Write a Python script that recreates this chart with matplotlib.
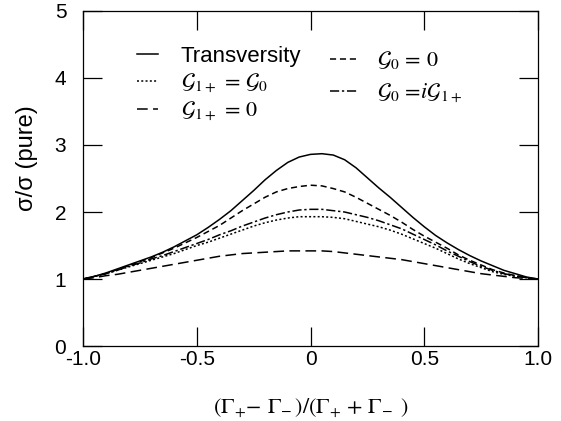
import matplotlib
matplotlib.use("Agg")
import matplotlib.pyplot as plt

plt.rcParams['font.family'] = ['Liberation Sans', 'DejaVu Sans']
plt.rcParams['mathtext.fontset'] = 'stix'

# asymmetry (Gamma+ - Gamma-)/(Gamma+ + Gamma-), step 0.05
x_vals = [-1.00, -0.95, -0.90, -0.85, -0.80, -0.75, -0.70, -0.65, -0.60, -0.55,
          -0.50, -0.45, -0.40, -0.35, -0.30, -0.25, -0.20, -0.15, -0.10, -0.05,
          0.00, 0.05, 0.10, 0.15, 0.20, 0.25, 0.30, 0.35, 0.40, 0.45,
          0.50, 0.55, 0.60, 0.65, 0.70, 0.75, 0.80, 0.85, 0.90, 0.95, 1.00]

# sigma / sigma(pure)
transversity = [1.00, 1.04, 1.09, 1.15, 1.21, 1.27, 1.33, 1.40, 1.48, 1.57,
                1.66, 1.77, 1.89, 2.02, 2.17, 2.32, 2.48, 2.62, 2.74, 2.82,
                2.86, 2.87, 2.85, 2.78, 2.66, 2.51, 2.36, 2.22, 2.07, 1.92,
                1.78, 1.65, 1.54, 1.44, 1.35, 1.27, 1.20, 1.13, 1.08, 1.03, 1.00]
g0_zero = [1.00, 1.04, 1.08, 1.14, 1.20, 1.26, 1.32, 1.39, 1.46, 1.54,
           1.62, 1.71, 1.80, 1.91, 2.02, 2.12, 2.22, 2.30, 2.35, 2.38,
           2.40, 2.39, 2.35, 2.30, 2.22, 2.13, 2.04, 1.95, 1.85, 1.74,
           1.64, 1.55, 1.46, 1.36, 1.28, 1.21, 1.14, 1.09, 1.05, 1.02, 1.00]
g0_ig1 = [1.00, 1.04, 1.08, 1.13, 1.19, 1.24, 1.30, 1.35, 1.41, 1.47,
          1.53, 1.59, 1.66, 1.72, 1.79, 1.85, 1.91, 1.96, 2.00, 2.03,
          2.04, 2.04, 2.02, 2.00, 1.96, 1.92, 1.87, 1.81, 1.75, 1.67,
          1.59, 1.51, 1.42, 1.34, 1.26, 1.19, 1.13, 1.08, 1.05, 1.02, 1.00]
g1_eq_g0 = [1.00, 1.04, 1.08, 1.13, 1.18, 1.23, 1.28, 1.33, 1.38, 1.44,
            1.50, 1.55, 1.61, 1.67, 1.73, 1.79, 1.84, 1.88, 1.91, 1.93,
            1.93, 1.93, 1.92, 1.90, 1.86, 1.82, 1.78, 1.73, 1.67, 1.60,
            1.53, 1.46, 1.38, 1.30, 1.23, 1.17, 1.11, 1.07, 1.04, 1.02, 1.00]
g1_zero = [1.00, 1.02, 1.05, 1.07, 1.10, 1.13, 1.16, 1.19, 1.22, 1.25,
           1.28, 1.31, 1.34, 1.36, 1.38, 1.39, 1.40, 1.41, 1.42, 1.42,
           1.42, 1.42, 1.41, 1.39, 1.37, 1.35, 1.33, 1.31, 1.29, 1.26,
           1.23, 1.20, 1.17, 1.14, 1.11, 1.08, 1.06, 1.04, 1.02, 1.01, 1.00]

x_ticks = [-1.0, -0.5, 0.0, 0.5, 1.0]
x_tick_labels = ['-1.0', '-0.5', '0', '0.5', '1.0']
y_ticks = [0, 1, 2, 3, 4, 5]

fig = plt.figure(figsize=(5.61, 4.21), dpi=100)
ax = fig.add_axes([0.148, 0.178, 0.811, 0.796])

lw = 1.1
l_t, = ax.plot(x_vals, transversity, color='black', lw=lw, label='Transversity')
l_d, = ax.plot(x_vals, g0_zero, color='black', lw=lw, dashes=(4, 2.5),
               label=r'$\mathcal{G}_0\, =\, \mathit{0}$')
l_dd, = ax.plot(x_vals, g0_ig1, color='black', lw=lw, dashes=(6, 1.8, 1.5, 1.8),
                label=r'$\mathcal{G}_0\, =\! i\mathcal{G}_{1+}$')
l_dt, = ax.plot(x_vals, g1_eq_g0, color='black', lw=lw, dashes=(1.3, 1.5),
                label=r'$\mathcal{G}_{1+}\, =\, \mathcal{G}_0$')
l_l, = ax.plot(x_vals, g1_zero, color='black', lw=lw, dashes=(7, 3.5),
               label=r'$\mathcal{G}_{1+}\, =\, \mathit{0}$')

ax.set_xlim(-1.0, 1.0)
ax.set_ylim(0, 5)
ax.set_xticks(x_ticks)
ax.set_xticklabels(x_tick_labels)
ax.set_yticks(y_ticks)
ax.tick_params(direction='in', length=14, width=0.9, top=True, right=True,
               labelsize=15)
ax.tick_params(axis='x', pad=3)
ax.tick_params(axis='y', pad=12)
for s in ax.spines.values():
    s.set_linewidth(0.9)

ax.set_ylabel('σ/σ (pure)', fontsize=17)
ax.yaxis.set_label_coords(-0.10, 0.56)
ax.set_xlabel(r'$(\Gamma_{\!+}\!\!-\, \Gamma_{\!-})/(\Gamma_{\!+}+\,\Gamma_{\!-}\;)$',
              fontsize=16)
ax.xaxis.set_label_coords(0.5, -0.15)

leg1 = ax.legend(handles=[l_t, l_dt, l_l], loc='upper left',
                 bbox_to_anchor=(0.119, 0.895), frameon=False, fontsize=16,
                 handlelength=0.95, handletextpad=1.0, labelspacing=0.2,
                 borderaxespad=0, borderpad=0)
ax.add_artist(leg1)
ax.legend(handles=[l_d, l_dd], loc='upper left', bbox_to_anchor=(0.543, 0.885),
          frameon=False, fontsize=16, handlelength=1.27, handletextpad=0.86,
          labelspacing=0.45, borderaxespad=0, borderpad=0)

fig.savefig('out.png', dpi=100)
